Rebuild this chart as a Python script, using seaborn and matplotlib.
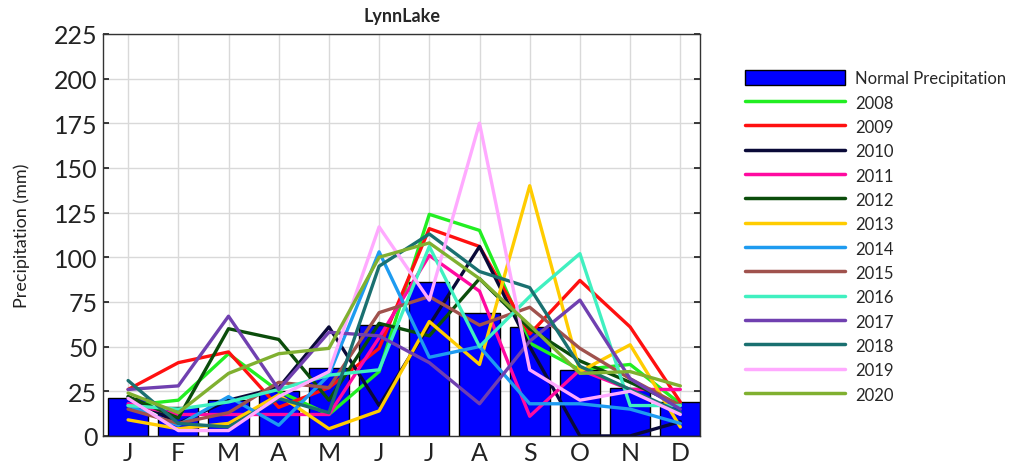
import numpy as np
import pandas as pd
import matplotlib
matplotlib.use("Agg")
import matplotlib.pyplot as plt
import seaborn as sns
from matplotlib.patches import Patch
from matplotlib.lines import Line2D

months = ["J", "F", "M", "A", "M", "J", "J", "A", "S", "O", "N", "D"]
normal = [21, 16, 20, 25, 38, 62, 86, 69, 61, 37, 27, 19]

y2008 = [17, 20, 46, 25, 12, 36, 124, 115, 52, 37, 40, 18]
y2009 = [26, 41, 47, 16, 27, 49, 116, 106, 57, 87, 61, 19]
y2010 = [22, 7, 20, 27, 61, 17, 62, 106, 50, 0, 0, 8]
y2011 = [18, 12, 12, 12, 12, 55, 101, 81, 11, 37, 26, 26]
y2012 = [22, 10, 60, 54, 20, 63, 56, 88, 60, 42, 30, 17]
y2013 = [9, 4, 7, 23, 4, 14, 64, 40, 140, 36, 51, 5]
y2014 = [17, 6, 22, 6, 34, 103, 44, 50, 18, 18, 15, 7]
y2015 = [15, 7, 13, 30, 27, 69, 78, 62, 72, 49, 32, 17]
y2016 = [17, 15, 19, 26, 34, 37, 106, 50, 78, 102, 17, 17]
y2017 = [26, 28, 67, 26, 58, 56, 41, 18, 53, 76, 32, 15]
y2018 = [31, 7, 5, 21, 13, 95, 113, 92, 83, 39, 26, 13]
y2019 = [21, 3, 3, 22, 36, 117, 76, 175, 37, 20, 25, 12]
y2020 = [24, 13, 35, 46, 49, 100, 108, 88, 62, 35, 36, 28]

years = ["2008", "2009", "2010", "2011", "2012", "2013", "2014",
         "2015", "2016", "2017", "2018", "2019", "2020"]
series = [y2008, y2009, y2010, y2011, y2012, y2013, y2014,
          y2015, y2016, y2017, y2018, y2019, y2020]
colors = ["#22ee22", "#ff1010", "#0a0a38", "#ff0aa0", "#0b4d0b", "#ffcc00",
          "#1e9bf0", "#a0524d", "#40f0c0", "#7040b0", "#1a7070", "#ffaaff",
          "#80b030"]

sns.set_theme(style="white")
plt.rcParams["font.family"] = ["Lato", "DejaVu Sans"]

fig = plt.figure(figsize=(10.3, 4.77), dpi=100)
ax = fig.add_axes([0.1, 0.084, 0.58, 0.843])

bar_df = pd.DataFrame({"idx": list(range(12)), "val": normal})
sns.barplot(data=bar_df, x="idx", y="val", color="#0000ff", saturation=1,
            edgecolor="black", linewidth=1, width=0.8, ax=ax, zorder=2)

rows = []
for yr, vals in zip(years, series):
    for i, v in enumerate(vals):
        rows.append({"idx": i, "val": v, "year": yr})
line_df = pd.DataFrame(rows)
sns.lineplot(data=line_df, x="idx", y="val", hue="year",
             palette=dict(zip(years, colors)), linewidth=2.4, ax=ax,
             legend=False, zorder=3)

ax.set_xlim(-0.5, 11.4)
ax.set_ylim(0, 225)
ax.set_yticks(np.arange(0, 226, 25))
ax.set_xticks(range(12))
ax.set_xticklabels(months)
ax.tick_params(axis="both", labelsize=18, colors="#222222", direction="in",
               length=4, pad=4)
ax.tick_params(axis="y", right=True, left=True)
ax.tick_params(axis="x", bottom=True)
ax.grid(True, color="#d9d9d9", linewidth=1, zorder=0)
ax.set_axisbelow(True)
for s in ax.spines.values():
    s.set_color("#333333")
    s.set_linewidth(1)
ax.set_xlabel("")
ax.set_ylabel("Precipitation (mm)", fontsize=13, color="#222222", labelpad=17)
ax.set_title("LynnLake", fontsize=13, fontweight="bold", pad=9)

handles = [Patch(facecolor="#0000ff", edgecolor="black", linewidth=1)]
labels = ["Normal Precipitation"]
for yr, c in zip(years, colors):
    handles.append(Line2D([0], [0], color=c, linewidth=2.5))
    labels.append(yr)
fig.legend(handles, labels, loc="upper left", bbox_to_anchor=(0.717, 0.865),
           frameon=False, fontsize=12, handlelength=6.0, handleheight=1.0,
           labelspacing=0.49, handletextpad=0.6, borderaxespad=0)

fig.savefig("out.png", dpi=100)
